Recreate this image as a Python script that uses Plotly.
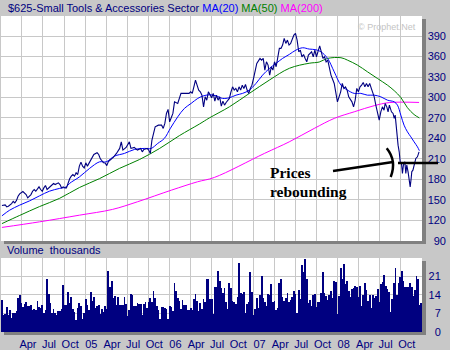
import numpy as np
import pandas as pd
import plotly.graph_objects as go

# ---------------- data ----------------
start_week = "2004-01-05"   # week 0

# weekly closing price: week offsets and values
price_weeks = [0, 2, 3, 4, 6, 7, 8, 9, 10, 11, 13, 14, 15, 16, 17, 18, 19, 20, 21, 22, 23, 24, 25, 26, 27, 28,
               30, 31, 32, 33, 34, 35, 36, 37, 38, 39, 40, 41, 42, 43, 44, 45, 46, 47, 48, 49, 50, 51, 52, 53, 54,
               55, 56, 57, 59, 60, 61, 62, 63, 64, 65, 66,
               67, 69, 71, 73, 74, 75, 77, 79, 80, 82, 84, 86, 87, 88, 90, 91, 92, 93, 95, 97, 99, 100, 101, 102,
               103, 104, 106, 107, 109, 111, 114, 116, 117, 118, 119, 120, 122, 123, 124, 125, 126, 127, 128,
               130, 131, 132, 133, 134, 135, 136, 137, 138, 139, 140, 141, 142, 143, 144, 145, 146, 147, 148, 149,
               150, 151, 152, 153, 154, 155, 156, 157, 158, 160, 161, 162, 163, 164, 165, 166, 167, 168, 169, 170,
               171, 172, 173, 174, 175, 176, 177, 178, 179, 180, 181, 182, 183, 184, 185, 186, 187, 188, 189, 190,
               192, 193, 194,
               195, 196, 197, 198, 199, 200, 201, 202, 204, 206, 207, 208, 210, 211, 212, 213, 214, 215, 217, 218,
               219, 220, 221, 222, 223, 224, 225, 226, 227, 228, 229, 230.8, 231.8, 232.8, 233.9, 234.9, 235.9,
               236.9, 237.6, 238.6, 239.4, 240.2, 241.5, 242.5, 243.2, 243.8, 244.2, 244.8, 245.6, 246.3, 246.9,
               247.7, 248.3, 248.9, 249.8, 250.4, 251.0, 251.8, 252.4, 253.1, 253.7, 254.1, 254.8, 255.6, 256.6,
               257.6, 258.6]
price_values = [141.5, 142.4, 139.5, 140.5, 144.4, 147.8, 145.4, 148.8, 155.2, 158.6, 162, 160, 157.6, 152.7,
                155.2, 157.6, 162.5, 165, 162.5, 165, 168.9, 165, 162.5, 167.4, 170.9, 165,
                169.9, 170.9, 173.8, 172.3, 173.8, 174.8, 172.3, 167.4, 168.9, 167.4, 167.4, 174.8, 180.7, 184.6,
                187, 184.6, 189.5, 187, 199.3, 205.2, 199.3, 196.8, 204.2, 199.3, 204.2,
                209, 214, 216.4, 218.9, 216.4, 210, 206.6, 204.2, 204, 200, 206,
                208, 212, 217.9, 225.3, 234.9, 222.8, 226.7, 234.9, 225.3, 226.7, 222.8, 225.3, 220.3, 223.8,
                225.3, 222.8, 217.9, 237.4, 257, 259.4, 259.4, 254.6, 262, 276.6,
                282.5, 264.3, 276.6, 293.6, 291.3, 306, 306, 306, 308.3, 306, 315.6, 325.5, 310.8, 308.3, 303.4,
                286.3, 301, 296.1, 308.3,
                299.5, 306, 294.6, 303.4, 296.1, 301, 287.3, 294.6, 288.8, 292.7, 296.1, 298.6, 308.3, 315.6, 310.8,
                313.2, 308.3, 315.6, 310.8, 318.1,
                313.2, 319.1, 310.8, 306, 313.2, 318.1, 327.9, 337.7, 349.9, 357.3, 354.8, 357.3, 340.1, 352.4,
                347.5, 332.8, 345.1, 340.1, 352.4, 345.1,
                357.3, 372, 372, 376.9, 386.6, 379.3, 384.2, 376.9, 379.3, 386.6, 391.5, 394, 384.2, 367, 369.5,
                359.6, 363.1, 357.3, 352.4, 362.2,
                367, 359.6, 369.5,
                359.7, 369.5, 375.8, 367, 357.3, 359.7, 352.3, 354.8, 332.8, 320.6, 305.9, 293.6, 308.3, 320.6,
                313.3, 315.6, 310.8, 301, 293.6, 286.3,
                296.1, 313.3, 308.3, 315.6, 318.1, 322.1, 315.6, 320.6, 315.6, 320.6, 313.3, 301, 288.8, 279,
                266.8, 279, 286.3,
                281.4, 291.3, 286.3, 279, 288.8, 279, 276.6, 269.3, 274.1, 261.9, 249.6, 230.1, 220.3, 205.6,
                203.3, 188.6, 200.8, 205.6, 188.6, 200.8, 191, 176.3, 168.9, 181.2, 191, 193.4, 200.8, 210.6,
                213, 220.3]

ma20_weeks = [0, 4.8, 11, 17.2, 23.3, 29.5, 35.7, 39.9, 41.9, 48.1, 54.3, 60.5, 64.6, 69.8, 76, 82.2, 88.4,
              92.5, 96.6, 100.7, 104.5, 109, 113.1, 117.3, 121.4, 124.5, 128.6, 132.8, 136.8, 141, 145.1, 149.2,
              153.4, 157.5, 161.6, 165.8, 169.9, 174, 178.2, 182.3, 186.4, 190.5, 194.7, 197.8, 201.9, 206,
              210.2, 214.2, 218.4, 222.5, 226.6, 230.8, 234.9, 239, 243.2, 245.2, 247.3, 249.3, 251.4, 253.5,
              255.5, 257.6, 258.8]
ma20_values = [126.4, 134.7, 142.1, 148.4, 155.7, 162.6, 166.6, 168.9, 173.9, 183.6, 195.9, 205.6, 205.6, 214,
               218, 223.8, 225.3, 225.3, 232.6, 240, 255, 271.6, 283.9, 291.3, 298.6, 302, 304, 302.4, 298.6,
               299.6, 303.4, 306, 310.8, 320.6, 332.8, 342.5, 349.9, 357.3, 363.2, 369.5, 372.9, 371, 370, 367,
               357.3, 337.7, 318.1, 310.8, 306, 306, 303.4, 303.4, 301, 296.1, 293.6, 288.8, 274.1, 259.4, 249.6,
               242.3, 235, 227.6, 222]

ma50_weeks = [0, 11, 23.3, 35.7, 48.1, 60.5, 72.9, 85.3, 97.6, 110, 122.4, 128.6, 141, 153.4, 165.8, 178.2,
              190.5, 196.7, 201.9, 210.2, 214.2, 220.4, 226.6, 232.8, 239, 243.2, 247.3, 251.4, 255.5, 258.8]
ma50_values = [115, 127, 140, 152, 168, 181, 196, 209, 225, 244, 261, 270, 286.3, 306, 325.5, 342.8, 350.2,
               352, 357.3, 358.3, 354.8, 347.5, 337.7, 327.9, 318.1, 310, 300, 285, 275, 270]

ma200_weeks = [0, 23.3, 48.1, 68.5, 84, 105.1, 121.2, 131.7, 162.7, 178.1, 193.6, 206, 218.4, 230.8, 240.1,
               258.6]
ma200_values = [109.4, 117.6, 127.4, 135.8, 147, 164.1, 176.3, 182.7, 217.9, 234.9, 254.6, 269.3, 279, 288,
                292.5, 292.7]

# weekly volume, thousands (one bar per week from start_week)
volume = [11.9, 6.25, 6.75, 9.25, 6.25, 8.1, 5.1, 7.25, 7.25, 7.75,
          12.75, 13.75, 10.75, 9.25, 10.5, 11.1, 9.75, 9.75, 10, 8.1,
          8.5, 8.1, 11.5, 9.25, 9, 10, 7.1, 8.1, 19.75, 14.1,
          10.75, 7.1, 8.75, 7.1, 6.5, 7.75, 7.75, 8.5, 17.5, 10.25,
          10.25, 14.9, 10.9, 13, 8.5, 7.5, 4.4, 9, 10.9, 9.75,
          5, 7.1, 12.25, 10, 8.25, 14.9, 11.6, 13.1, 9.1, 9.75,
          10, 6.9, 8.6, 7.5, 9.6, 8.75, 23.1, 16.75, 19.1, 12.75,
          13.4, 10, 13, 10, 10.25, 10, 13, 10.5, 5.9, 8.4,
          14.4, 13.75, 9.6, 9.6, 10.9, 10.5, 10.4, 6.5, 10.6,
          11.1, 9.1, 11.25, 12.6, 11.1, 15.25, 12.6, 9.6, 8.4, 4.9,
          9.25, 9.25, 9, 8.5, 5, 9.6, 9.25, 8, 18.25, 15.25,
          12.75, 11.5, 8.5, 12, 10.25, 10, 8.1, 8.1, 8.9, 8.4,
          12.25, 14.1, 11.5, 7.75, 10.9, 8.5, 12.25, 11.25, 20.1, 20.1,
          12.25, 12.25, 6.6, 16.75, 16.75, 23.1, 19, 16.5, 14.5, 16.5,
          11.1, 8.5, 18.25, 16.4, 11.5, 11.1, 10.4, 13, 25.9, 14.5,
          14.1, 14.9, 7, 10.6, 11.1, 22.4, 14.9, 6.25, 8.5, 12.6,
          8.9, 13.75, 20.9, 12.6, 11.1, 9.6, 14.1, 13.75, 17.9, 11.1,
          11.5, 8.1, 8.9, 18.25, 19.75, 13, 11.5, 12.6,
          14.5, 11.1, 11.9, 13, 15.25, 14.1, 7, 15.6, 12.25, 25,
          22.4, 27.6, 19.75, 10.75, 11.9, 9.6, 13.75, 14.1, 9.25, 11.1,
          11.1, 14.5, 22.4, 14.5, 13.4, 11.9, 13.75, 15.25, 12.6, 19,
          18.75, 6.6, 13.4, 23.9, 20.1, 25.4, 17.9, 19, 15.25, 13,
          16, 16.4, 17.1, 16.75, 13, 17.1, 9.6, 13.75, 18.25, 15.6,
          11.5, 13.75, 8.9, 13.75, 12.6, 13.4, 16, 11.1, 17.9, 18.6,
          21.6, 17.1, 16, 14.9, 7.4, 12.25, 18.25, 23.9, 13.75, 18.25,
          20.5, 23.1, 19, 16.75, 16.75, 16.75, 18.25, 16.75, 13.4, 15.6,
          20.9, 20.1, 10, 10.75]

tick_dates = ["2004-01-01", "2004-04-01", "2004-07-01", "2004-10-01", "2005-01-01", "2005-04-01", "2005-07-01",
              "2005-10-01", "2006-01-01", "2006-04-01", "2006-07-01", "2006-10-01", "2007-01-01", "2007-04-01",
              "2007-07-01", "2007-10-01", "2008-01-01", "2008-04-01", "2008-07-01", "2008-10-01"]
tick_labels = ["", "Apr", "Jul", "Oct", "05", "Apr", "Jul", "Oct", "06", "Apr", "Jul", "Oct", "07", "Apr",
               "Jul", "Oct", "08", "Apr", "Jul", "Oct"]
price_ticks = [90, 120, 150, 180, 210, 240, 270, 300, 330, 360, 390]
volume_ticks = [0, 7, 14, 21]

title_text = "$625-Small Tools & Accessories Sector"
# ----------------------------------------------------------------

t0 = pd.Timestamp(start_week)


def wk(w):
    return t0 + pd.to_timedelta(np.asarray(w, dtype=float) * 7, unit="D")


vol_dates = pd.date_range(t0, periods=len(volume), freq="7D")

NAVY = "#000080"
GRID = "#C8C8C8"
FONT = "Liberation Sans, Arial, sans-serif"

fig = go.Figure()
fig.add_trace(go.Scatter(x=wk(ma200_weeks), y=ma200_values, mode="lines", line=dict(color="#FF00FF", width=1, shape="spline"), xaxis="x", yaxis="y"))
fig.add_trace(go.Scatter(x=wk(ma50_weeks), y=ma50_values, mode="lines", line=dict(color="#008000", width=1, shape="spline"), xaxis="x", yaxis="y"))
fig.add_trace(go.Scatter(x=wk(ma20_weeks), y=ma20_values, mode="lines", line=dict(color="#0000FF", width=1, shape="spline"), xaxis="x", yaxis="y"))
fig.add_trace(go.Scatter(x=wk(price_weeks), y=price_values, mode="lines", line=dict(color=NAVY, width=1.1), xaxis="x", yaxis="y"))
fig.add_trace(go.Bar(x=vol_dates, y=volume, marker=dict(color=NAVY, line=dict(width=0)),
                     width=0.5 * 7 * 86400000, xaxis="x2", yaxis="y2"))

XD = [0, 421 / 447]
common_x = dict(domain=XD, range=["2004-01-01", "2009-01-01"], tickmode="array", tickvals=tick_dates,
                showgrid=True, gridcolor=GRID, gridwidth=1, zeroline=False, showline=False, ticks="",
                fixedrange=True)

fig.update_layout(
    width=450, height=350,
    margin=dict(l=1, r=2, t=16, b=18),
    paper_bgcolor="#C8C8C8", plot_bgcolor="white",
    showlegend=False, hovermode=False,
    font=dict(family=FONT, size=11, color=NAVY),
    xaxis=dict(anchor="y", showticklabels=False, ticktext=tick_labels, **common_x),
    xaxis2=dict(anchor="y2", matches="x", showticklabels=True, ticktext=tick_labels,
                ticklabelshift=6, ticklabelstandoff=4, tickfont=dict(size=11, color=NAVY), **common_x),
    yaxis=dict(domain=[91 / 316, 1], range=[89.5, 419.5], anchor="free", position=0.9955, side="left",
               tickvals=price_ticks, showgrid=True, gridcolor=GRID, gridwidth=1, zeroline=False,
               showline=False, ticks="", tickfont=dict(size=11, color=NAVY), fixedrange=True),
    yaxis2=dict(domain=[0, 74 / 316], range=[0, 27.8], anchor="free", position=0.984, side="left",
                tickvals=volume_ticks, showgrid=True, gridcolor=GRID, gridwidth=1, zeroline=False,
                showline=False, ticks="", tickfont=dict(size=11, color=NAVY), fixedrange=True),
    bargap=0,
)

# drop shadows of the two panels
SH = "#808080"
for x0, x1, y0, y1 in [(421 / 447, 425 / 447, 88 / 316, 313 / 316),
                       (3 / 447, 425 / 447, 88 / 316, 91 / 316),
                       (421 / 447, 425 / 447, -3 / 316, 71 / 316),
                       (3 / 447, 425 / 447, -3 / 316, 0)]:
    fig.add_shape(type="rect", xref="paper", yref="paper", x0=x0, x1=x1, y0=y0, y1=y1,
                  fillcolor=SH, line=dict(width=0), layer="below")

# hand-drawn arrow
fig.add_shape(type="line", xref="paper", yref="paper", x0=332 / 447, y0=161 / 316, x1=392 / 447, y1=170 / 316,
              line=dict(color="black", width=2.5))
fig.add_shape(type="path", xref="paper", yref="paper",
              path="M %.5f,%.5f Q %.5f,%.5f %.5f,%.5f" % (385.7 / 447, 183.7 / 316, 396 / 447, 171 / 316,
                                                        389.7 / 447, 155 / 316),
              line=dict(color="black", width=2.5))
fig.add_shape(type="line", xref="paper", yref="paper", x0=397 / 447, y0=169 / 316, x1=437 / 447, y1=169 / 316,
              line=dict(color="black", width=2.5))

# texts
fig.add_annotation(xref="paper", yref="paper", x=5 / 447, y=324 / 316, xanchor="left", yanchor="middle",
                   showarrow=False, font=dict(family=FONT, size=11),
                   text="<span style='color:#000080'>%s</span> <span style='color:#0000FF'>MA(20)</span> "
                        "<span style='color:#008000'>MA(50)</span> <span style='color:#FF00FF'>MA(200)</span>"
                        % title_text.replace("&", "&amp;"))
fig.add_annotation(xref="paper", yref="paper", x=4 / 447, y=82 / 316, xanchor="left", yanchor="middle",
                   showarrow=False, font=dict(family=FONT, size=11, color=NAVY), text="Volume  thousands")
fig.add_annotation(xref="paper", yref="paper", x=355 / 447, y=305 / 316, xanchor="left", yanchor="middle",
                   showarrow=False, font=dict(family=FONT, size=9, color="#C4C4C4"), text="© Prophet.Net")
fig.add_annotation(xref="paper", yref="paper", x=267 / 447, y=159.5 / 316, xanchor="left", yanchor="middle",
                   showarrow=False, font=dict(family="Liberation Serif, Times New Roman, serif", size=15.5,
                                              color="black"), text="<b>Prices</b>")
fig.add_annotation(xref="paper", yref="paper", x=267 / 447, y=141 / 316, xanchor="left", yanchor="middle",
                   showarrow=False, font=dict(family="Liberation Serif, Times New Roman, serif", size=15.5,
                                              color="black"), text="<b>rebounding</b>")

fig.write_html("out.html", config={"displayModeBar": False})
